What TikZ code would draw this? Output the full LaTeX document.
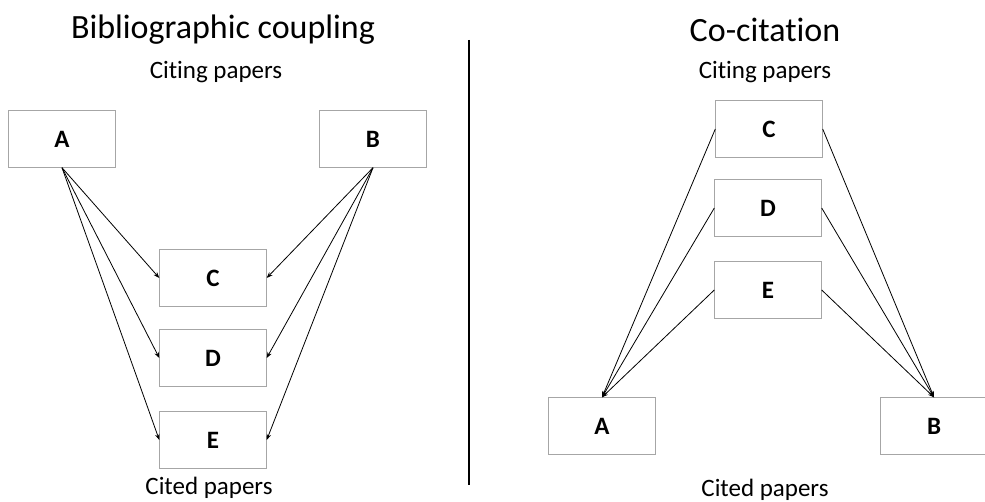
\documentclass[tikz,border=0pt]{standalone}
\usepackage{fontspec}
\setmainfont{Carlito}[Ligatures=NoCommon]
\usetikzlibrary{arrows.meta}

\begin{document}
\begin{tikzpicture}[x=1pt,y=-1pt,
	paper/.style={draw=gray!70, fill=white, minimum width=107pt, minimum height=57pt, inner sep=0pt, font=\fontsize{25}{28}\selectfont\bfseries},
	cite/.style={->, >={Stealth[length=6pt,width=4.5pt]}, line width=0.8pt},
	title/.style={font=\fontsize{34}{38}\selectfont},
	caption/.style={font=\fontsize{25}{28}\selectfont}]

	\useasboundingbox (0,0) rectangle (985,502);

	% Bibliographic coupling
	\node[title] (bibtitle) at (223,30) {Bibliographic coupling};
	\node[caption] (bibciting) at (216,72) {Citing papers};
	\node[caption] (bibcited) at (209,488) {Cited papers};

	\node[paper] (bA) at (62,139) {A};
	\node[paper] (bB) at (373,139) {B};
	\node[paper] (bC) at (213,278) {C};
	\node[paper] (bD) at (213,358) {D};
	\node[paper] (bE) at (213,440) {E};

	\foreach \n in {bC,bD,bE} {
		\draw[cite] (bA.south) -- (\n.west);
		\draw[cite] (bB.south) -- (\n.east);
	}

	% divider
	\coordinate (top) at (469,40);
	\coordinate (bottom) at (469,485);
	\draw[line width=1.5pt] (top) -- (bottom);

	% Co-citation
	\node[title] (cotitle) at (765,30) {Co-citation};
	\node[caption] (cociting) at (765,72) {Citing papers};
	\node[caption] (cocited) at (765,490) {Cited papers};

	\node[paper] (cC) at (769,129) {C};
	\node[paper] (cD) at (768,208) {D};
	\node[paper] (cE) at (768,290) {E};
	\node[paper] (cA) at (602,426) {A};
	\node[paper] (cB) at (934,426) {B};

	\foreach \n in {cC,cD,cE} {
		\draw[cite] (\n.west) -- (cA.north);
		\draw[cite] (\n.east) -- (cB.north);
	}

\end{tikzpicture}
\end{document}
